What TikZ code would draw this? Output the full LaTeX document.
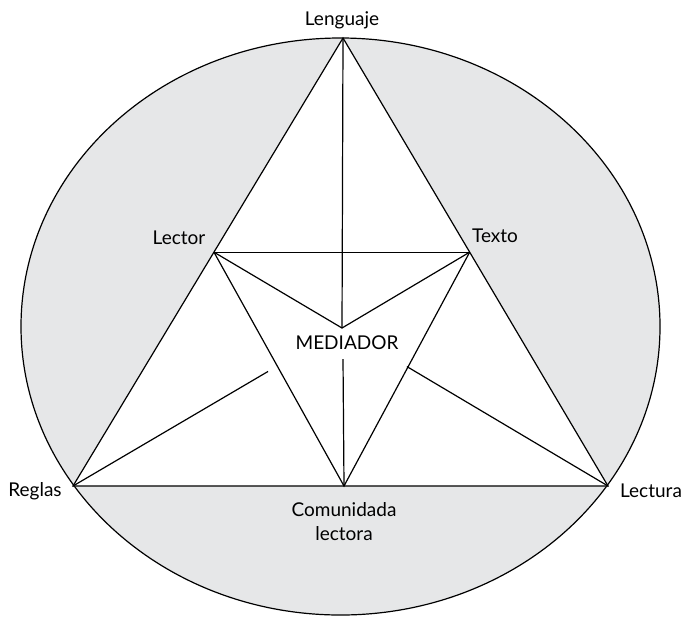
\documentclass[tikz,border=0pt]{standalone}
\usepackage{fontspec}
\setmainfont{Lato}
\usetikzlibrary{calc}
\definecolor{gris}{RGB}{230,231,232}

\begin{document}
\begin{tikzpicture}[x=0.5pt, y=-0.5pt, line width=0.6pt,
    etiqueta/.style={font=\fontsize{9.5}{12}\selectfont, inner sep=0pt, align=center}]
    \useasboundingbox (0,0) rectangle (683,616);

    % definir coordenadas
    \coordinate (lenguaje) at (343,38);
    \coordinate (reglas) at (73,486);
    \coordinate (lectura) at (608,486);
    \coordinate (lector) at ($(lenguaje)!0.478!(reglas)$);
    \coordinate (texto) at ($(lenguaje)!0.478!(lectura)$);
    \coordinate (comunidad) at (344,486);
    \coordinate (mediador) at (342,328);
    \coordinate (bajo) at (343,359);
    \coordinate (izq) at ($(reglas)!0.725!(mediador)$);
    \coordinate (der) at ($(lectura)!0.756!(mediador)$);

    % elipse gris
    \filldraw[fill=gris, draw=black] (340.5,326.5) ellipse [x radius=319.5, y radius=288.5];

    % triangulo blanco
    \fill[white] (lenguaje) -- (reglas) -- (lectura) -- cycle;
    \draw (lenguaje) -- (reglas) -- (lectura) -- cycle;

    % lineas interiores
    \draw (lector) -- (texto);
    \draw (lector) -- (comunidad) -- (texto);
    \draw (lector) -- (mediador) -- (texto);
    \draw (lenguaje) -- (mediador);
    \draw (comunidad) -- (bajo);
    \draw (reglas) -- (izq);
    \draw (lectura) -- (der);

    % etiquetas
    \node[etiqueta] (tLenguaje) at (342,20) {Lenguaje};
    \node[etiqueta] (tReglas) at (35,491) {Reglas};
    \node[etiqueta] (tLectura) at (651,491) {Lectura};
    \node[etiqueta] (tLector) at (179,238) {Lector};
    \node[etiqueta] (tTexto) at (495,236) {Texto};
    \node[etiqueta] (tMediador) at (347,343) {MEDIADOR};
    \node[etiqueta] (tComunidad) at (344,522) {Comunidada\\lectora};
\end{tikzpicture}
\end{document}
